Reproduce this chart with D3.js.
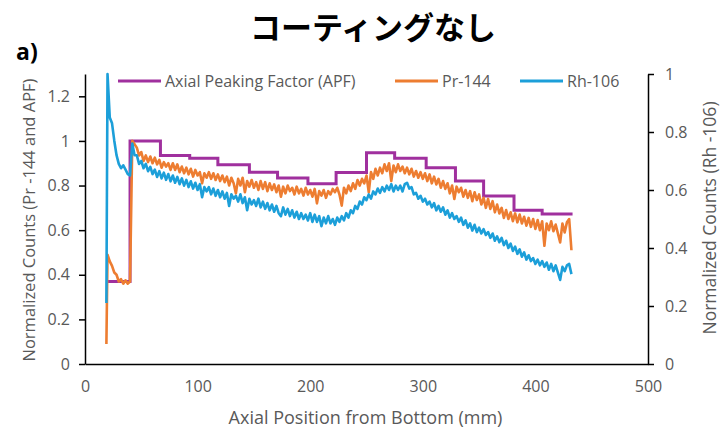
<!DOCTYPE html>
<html>
  <head>
    <meta charset="utf-8">
    <script src="https://d3js.org/d3.v7.min.js"></script>
    <style>
      body { margin: 0; background: #fff; }
      text { font-family: "Open Sans", sans-serif; }
    </style>
  </head>
  <body>
    <div id="chart"></div>
    <script>
// axial positions (mm) where the counts were read
var positions = [19].concat(d3.range(20, 433, 2));

// Pr-144 normalized counts (left axis)
var prValues = [
  0.09, 0.49, 0.46, 0.44, 0.41, 0.4, 0.37, 0.38, 0.36, 0.375,
  0.36, 0.37, 1.0, 0.985, 0.97, 0.935, 0.95, 0.91, 0.935, 0.905,
  0.93, 0.9, 0.925, 0.895, 0.915, 0.88, 0.905, 0.885, 0.9, 0.87,
  0.9, 0.87, 0.895, 0.86, 0.885, 0.855, 0.88, 0.85, 0.875, 0.84,
  0.87, 0.845, 0.86, 0.81, 0.855, 0.835, 0.86, 0.83, 0.855, 0.825,
  0.85, 0.82, 0.845, 0.815, 0.84, 0.8, 0.835, 0.81, 0.765, 0.83,
  0.8, 0.835, 0.77, 0.82, 0.795, 0.825, 0.79, 0.815, 0.78, 0.82,
  0.785, 0.815, 0.775, 0.81, 0.78, 0.805, 0.77, 0.8, 0.75, 0.795,
  0.765, 0.8, 0.775, 0.79, 0.76, 0.795, 0.765, 0.785, 0.755, 0.79,
  0.76, 0.78, 0.75, 0.785, 0.72, 0.775, 0.755, 0.78, 0.745, 0.775,
  0.76, 0.785, 0.77, 0.79, 0.76, 0.71, 0.79, 0.765, 0.8, 0.775,
  0.81, 0.785, 0.825, 0.8, 0.83, 0.81, 0.845, 0.77, 0.86, 0.83,
  0.875, 0.845, 0.88, 0.855, 0.895, 0.865, 0.9, 0.82, 0.89, 0.86,
  0.895, 0.865, 0.885, 0.855, 0.88, 0.85, 0.875, 0.84, 0.865, 0.835,
  0.86, 0.83, 0.855, 0.82, 0.85, 0.81, 0.84, 0.805, 0.83, 0.79,
  0.82, 0.785, 0.81, 0.765, 0.8, 0.74, 0.795, 0.77, 0.79, 0.75,
  0.78, 0.745, 0.775, 0.73, 0.77, 0.735, 0.76, 0.715, 0.745, 0.7,
  0.74, 0.695, 0.73, 0.68, 0.715, 0.675, 0.7, 0.655, 0.69, 0.65,
  0.68, 0.64, 0.675, 0.635, 0.67, 0.63, 0.66, 0.62, 0.655, 0.615,
  0.65, 0.605, 0.645, 0.6, 0.64, 0.53, 0.63, 0.6, 0.64, 0.595,
  0.625, 0.585, 0.545, 0.63, 0.59, 0.635, 0.65, 0.51
];

// Rh-106 normalized counts (right axis)
var rhValues = [
  0.21, 1.0, 0.85, 0.83, 0.77, 0.72, 0.69, 0.675, 0.685, 0.67,
  0.655, 0.65, 0.76, 0.72, 0.72, 0.69, 0.7, 0.675, 0.69, 0.665,
  0.68, 0.655, 0.67, 0.645, 0.665, 0.64, 0.66, 0.635, 0.655, 0.63,
  0.65, 0.625, 0.645, 0.62, 0.64, 0.615, 0.635, 0.61, 0.63, 0.605,
  0.625, 0.6, 0.62, 0.575, 0.61, 0.595, 0.61, 0.585, 0.605, 0.58,
  0.6, 0.575, 0.595, 0.57, 0.59, 0.545, 0.585, 0.57, 0.58, 0.56,
  0.585, 0.555, 0.575, 0.53, 0.57, 0.55, 0.565, 0.545, 0.57, 0.54,
  0.56, 0.535, 0.555, 0.53, 0.55, 0.525, 0.545, 0.52, 0.51, 0.54,
  0.515, 0.535, 0.51, 0.53, 0.505, 0.525, 0.5, 0.52, 0.5, 0.515,
  0.495, 0.52, 0.49, 0.515, 0.49, 0.51, 0.475, 0.505, 0.485, 0.51,
  0.485, 0.5, 0.48, 0.505, 0.49, 0.51, 0.495, 0.52, 0.505, 0.53,
  0.52, 0.545, 0.535, 0.56, 0.55, 0.575, 0.565, 0.585, 0.57, 0.595,
  0.585, 0.605, 0.59, 0.61, 0.595, 0.615, 0.6, 0.62, 0.595, 0.615,
  0.6, 0.615, 0.595, 0.62, 0.625, 0.605, 0.61, 0.585, 0.59, 0.57,
  0.58, 0.56, 0.57, 0.55, 0.56, 0.54, 0.555, 0.53, 0.545, 0.525,
  0.54, 0.515, 0.53, 0.505, 0.52, 0.5, 0.51, 0.49, 0.505, 0.48,
  0.495, 0.47, 0.485, 0.46, 0.48, 0.455, 0.47, 0.45, 0.465, 0.445,
  0.455, 0.435, 0.45, 0.425, 0.44, 0.42, 0.435, 0.41, 0.425, 0.4,
  0.415, 0.39, 0.405, 0.38, 0.395, 0.37, 0.385, 0.36, 0.375, 0.355,
  0.365, 0.345, 0.36, 0.34, 0.355, 0.335, 0.35, 0.325, 0.345, 0.32,
  0.34, 0.315, 0.29, 0.335, 0.32, 0.34, 0.345, 0.31
];

// axial peaking factor, one level per segment (step starts)
var apfPositions = [19, 40, 67, 93, 118, 146, 171, 198, 223, 250, 275, 303, 329, 354, 381, 406, 433];
var apfValues = [0.37, 1.0, 0.935, 0.922, 0.893, 0.86, 0.834, 0.808, 0.858, 0.947, 0.922, 0.88, 0.82, 0.753, 0.689, 0.672, 0.672];

var xTicks = [0, 100, 200, 300, 400, 500];
var leftTicks = [0, 0.2, 0.4, 0.6, 0.8, 1, 1.2];
var rightTicks = [0, 0.2, 0.4, 0.6, 0.8, 1];

var seriesNames = ["Axial Peaking Factor (APF)", "Pr-144", "Rh-106"];
var colors = ["#a0309e", "#ed7d31", "#1c9fd9"];

var width = 720, height = 429;
var margin = {top: 74, right: 72, bottom: 65, left: 85};

var svg = d3.select("#chart").append("svg")
  .attr("width", width)
  .attr("height", height);

var x = d3.scaleLinear().domain([0, 500]).range([margin.left, width - margin.right]);
var yL = d3.scaleLinear().domain([0, 1.3]).range([height - margin.bottom, margin.top]);
var yR = d3.scaleLinear().domain([0, 1]).range([height - margin.bottom, margin.top]);

var tickColor = "#595959";

// axes
var gx = svg.append("g")
  .attr("transform", "translate(0," + (height - margin.bottom) + ")")
  .call(d3.axisBottom(x).tickValues(xTicks).tickSize(0).tickPadding(17).tickFormat(d3.format("d")));

var gl = svg.append("g")
  .attr("transform", "translate(" + margin.left + ",0)")
  .call(d3.axisLeft(yL).tickValues(leftTicks).tickSizeInner(6).tickSizeOuter(0).tickPadding(9).tickFormat(d3.format("~g")));

var gr = svg.append("g")
  .attr("transform", "translate(" + (width - margin.right) + ",0)")
  .call(d3.axisRight(yR).tickValues(rightTicks).tickSizeInner(6).tickSizeOuter(0).tickPadding(11).tickFormat(d3.format("~g")));

[gx, gl, gr].forEach(function(g){
  g.select(".domain").attr("stroke", "#000").attr("stroke-width", 1.5);
  g.selectAll(".tick line").attr("stroke", "#000").attr("stroke-width", 1.5);
  g.selectAll(".tick text")
    .attr("fill", tickColor)
    .style("font-size", "16px")
    .style("font-family", "'Open Sans', sans-serif");
});

// lines
var apfLine = d3.line()
  .x(function(d){ return x(d[0]); })
  .y(function(d){ return yL(d[1]); })
  .curve(d3.curveStepAfter);

var prLine = d3.line()
  .x(function(d){ return x(d[0]); })
  .y(function(d){ return yL(d[1]); });

var rhLine = d3.line()
  .x(function(d){ return x(d[0]); })
  .y(function(d){ return yR(d[1]); });

var apfData = d3.zip(apfPositions, apfValues);
var prData = d3.zip(positions, prValues);
var rhData = d3.zip(positions, rhValues);

svg.append("path").datum(apfData)
  .attr("d", apfLine)
  .attr("fill", "none")
  .attr("stroke", colors[0])
  .attr("stroke-width", 3);

svg.append("path").datum(prData)
  .attr("d", prLine)
  .attr("fill", "none")
  .attr("stroke", colors[1])
  .attr("stroke-width", 2.6)
  .attr("stroke-linejoin", "round");

svg.append("path").datum(rhData)
  .attr("d", rhLine)
  .attr("fill", "none")
  .attr("stroke", colors[2])
  .attr("stroke-width", 2.6)
  .attr("stroke-linejoin", "round");

// legend
var legendX = [118, 395, 520];
var legend = svg.append("g");
seriesNames.forEach(function(name, i){
  legend.append("line")
    .attr("x1", legendX[i]).attr("x2", legendX[i] + 43)
    .attr("y1", 81).attr("y2", 81)
    .attr("stroke", colors[i])
    .attr("stroke-width", 3);
  legend.append("text")
    .attr("x", legendX[i] + 47)
    .attr("y", 81)
    .attr("dy", "0.35em")
    .attr("fill", tickColor)
    .style("font-size", "16px")
    .text(name);
});

// titles
svg.append("text")
  .attr("x", 373).attr("y", 39)
  .attr("text-anchor", "middle")
  .style("font-family", "'Noto Sans CJK JP', sans-serif")
  .style("font-weight", "bold")
  .style("font-size", "31px")
  .attr("fill", "#000")
  .text("コーティングなし");

svg.append("text")
  .attr("x", 16).attr("y", 60)
  .style("font-weight", "bold")
  .style("font-size", "23px")
  .attr("fill", "#000")
  .text("a)");

svg.append("text")
  .attr("x", (margin.left + width - margin.right) / 2 - 1)
  .attr("y", 424)
  .attr("text-anchor", "middle")
  .attr("fill", tickColor)
  .style("font-size", "18px")
  .text("Axial Position from Bottom (mm)");

svg.append("text")
  .attr("transform", "translate(35," + 220 + ") rotate(-90)")
  .attr("text-anchor", "middle")
  .attr("fill", tickColor)
  .style("font-size", "16.5px")
  .text("Normalized Counts (Pr -144 and APF)");

svg.append("text")
  .attr("transform", "translate(716," + 218 + ") rotate(-90)")
  .attr("text-anchor", "middle")
  .attr("fill", tickColor)
  .style("font-size", "17.5px")
  .text("Normalized Counts (Rh -106)");
    </script>
  </body>
</html>
